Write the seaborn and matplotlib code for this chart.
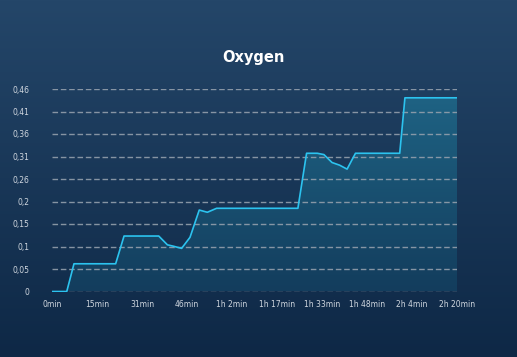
import numpy as np
import pandas as pd
import matplotlib
matplotlib.use("Agg")
import matplotlib.pyplot as plt
import seaborn as sns
from matplotlib.colors import LinearSegmentedColormap

# dados (minutos, valor)
minutos = [0, 5.1, 7.6, 22.0, 24.9, 36.9, 39.9, 41.9, 44.8, 47.7, 50.9, 53.7, 56.9,
           85.0, 88.0, 91.7, 94.0, 96.8, 99.4, 102.0, 104.9, 120.2, 122.0, 140.0]
oxigenio = [0, 0, 0.063, 0.063, 0.126, 0.126, 0.106, 0.103, 0.098, 0.123, 0.185, 0.180, 0.189,
            0.189, 0.314, 0.314, 0.311, 0.293, 0.287, 0.278, 0.314, 0.314, 0.440, 0.440]
y_ticks = np.linspace(0, 0.46, 10)
y_labels = ['0', '0,05', '0,1', '0,15', '0,2', '0,26', '0,31', '0,36', '0,41', '0,46']
x_ticks = np.linspace(0, 140, 10)
x_labels = ['0min', '15min', '31min', '46min', '1h 2min', '1h 17min', '1h 33min',
            '1h 48min', '2h 4min', '2h 20min']

df = pd.DataFrame({'Tempo': minutos, 'Oxygen': oxigenio})

sns.set_theme(style="dark")
plt.rcParams['font.family'] = ['DejaVu Sans']

fig = plt.figure(figsize=(5.17, 3.57), dpi=100)

# fundo com degradê
bg = fig.add_axes([0, 0, 1, 1])
bg.axis('off')
grad = np.linspace(0, 1, 256).reshape(-1, 1)
cmap_bg = LinearSegmentedColormap.from_list('bg', ['#244669', '#0e2846'])
bg.imshow(grad, aspect='auto', cmap=cmap_bg, extent=[0, 1, 0, 1], origin='upper')
bg.set_xlim(0, 1)
bg.set_ylim(0, 1)

ax = fig.add_axes([52 / 517, (357 - 291.5) / 357, 405 / 517, 202.5 / 357])
ax.set_facecolor('none')
ax.patch.set_alpha(0)

# area com degradê
cmap_fill = LinearSegmentedColormap.from_list('fill', ['#1f6485', '#133d5d'])
poly = ax.fill_between(df['Tempo'], df['Oxygen'], 0, color='none', lw=0)
img = ax.imshow(np.linspace(0, 1, 256).reshape(-1, 1), aspect='auto', cmap=cmap_fill,
                extent=[0, 140, 0, 0.46], origin='upper', zorder=1)
path = poly.get_paths()[0]
img.set_clip_path(path, transform=ax.transData)

for t in y_ticks:
    ax.axhline(t, color='#939fac', lw=1.0, dashes=(4, 2), alpha=0.9, zorder=2)

sns.lineplot(data=df, x='Tempo', y='Oxygen', ax=ax, color='#2cc3ef', lw=1.2, zorder=3)

ax.set_xlim(0, 140)
ax.set_ylim(0, 0.46)
ax.set_xticks(x_ticks)
ax.set_xticklabels(x_labels)
ax.set_yticks(y_ticks)
ax.set_yticklabels(y_labels)
ax.tick_params(axis='x', colors='#d0d7df', labelsize=5.5, length=0, pad=6)
ax.tick_params(axis='y', colors='#d0d7df', labelsize=5.5, length=0, pad=16)
ax.set_xlabel('')
ax.set_ylabel('')
ax.grid(False)
for s in ax.spines.values():
    s.set_visible(False)

fig.text(253.5 / 517, 1 - 57.5 / 357, 'Oxygen', color='white', fontsize=10.5,
         fontweight='bold', ha='center', va='center')

fig.savefig('out.png', dpi=100)
